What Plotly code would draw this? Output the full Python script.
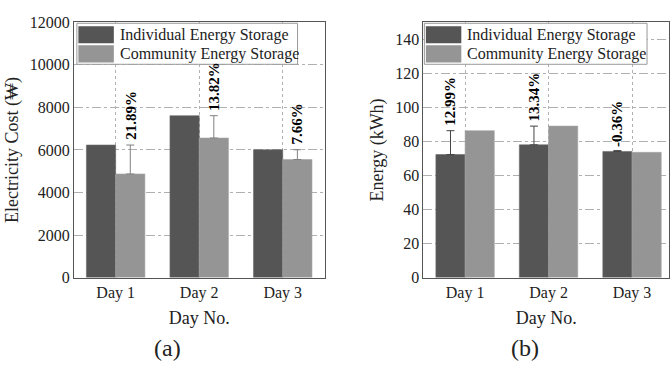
import plotly.graph_objects as go

days = ["Day 1", "Day 2", "Day 3"]
series_names = ["Individual Energy Storage", "Community Energy Storage"]

cost_individual = [6230, 7610, 6010]
cost_community = [4870, 6560, 5550]
cost_labels = ["21.89%", "13.82%", "7.66%"]

energy_individual = [72.3, 78.0, 74.1]
energy_community = [86.3, 89.0, 73.6]
energy_labels = ["12.99%", "13.34%", "-0.36%"]

cost_ticks = [0, 2000, 4000, 6000, 8000, 10000, 12000]
energy_ticks = [0, 20, 40, 60, 80, 100, 120, 140]

DARK = "#555555"
LIGHT = "#959595"
FONT = "Liberation Serif"
W, H = 670, 371

fig = go.Figure()

cost_err = [i - c for i, c in zip(cost_individual, cost_community)]
energy_err = [abs(c - i) for i, c in zip(energy_individual, energy_community)]

fig.add_trace(go.Bar(x=days, y=cost_individual, name=series_names[0], marker=dict(color=DARK, line=dict(width=0.6, color="#6a6a6a")),
                     xaxis="x", yaxis="y", showlegend=False))
fig.add_trace(go.Bar(x=days, y=cost_community, name=series_names[1], marker=dict(color=LIGHT, line=dict(width=0.6, color="#a5a5a5")),
                     error_y=dict(type="data", symmetric=False, array=cost_err, arrayminus=[0, 0, 0],
                                  color="#808080", thickness=1, width=4),
                     xaxis="x", yaxis="y", showlegend=False))
fig.add_trace(go.Bar(x=days, y=energy_individual, name=series_names[0], marker=dict(color=DARK, line=dict(width=0.6, color="#6a6a6a")),
                     error_y=dict(type="data", symmetric=False, array=energy_err, arrayminus=[0, 0, 0],
                                  color="#444444", thickness=1, width=4),
                     xaxis="x2", yaxis="y2", showlegend=False))
fig.add_trace(go.Bar(x=days, y=energy_community, name=series_names[1], marker=dict(color=LIGHT, line=dict(width=0.6, color="#a5a5a5")),
                     xaxis="x2", yaxis="y2", showlegend=False))

ydom = [1 - 282.5 / H, 1 - 15 / H]
common_x = dict(showline=True, linecolor="#555555", linewidth=1, mirror=True,
                showgrid=True, gridcolor="#b0b0b0", griddash="dot", gridwidth=1,
                ticks="", tickfont=dict(family=FONT, size=16, color="#222"),
                title=dict(text="Day No.", font=dict(family=FONT, size=18, color="#222"), standoff=10))
common_y = dict(showline=True, linecolor="#555555", linewidth=1, mirror=True,
                showgrid=True, gridcolor="#b0b0b0", griddash="dashdot", gridwidth=1,
                ticks="", zeroline=False, tickformat="d", tickfont=dict(family=FONT, size=16, color="#222"))

fig.update_layout(
    width=W, height=H, margin=dict(l=0, r=0, t=0, b=0),
    paper_bgcolor="white", plot_bgcolor="white",
    barmode="group", bargap=0.3, bargroupgap=0,
    font=dict(family=FONT, color="#222"),
    xaxis=dict(domain=[74 / W, 325 / W], range=[-0.5, 2.5], anchor="y", **common_x),
    yaxis=dict(domain=ydom, range=[0, 12000], tickvals=cost_ticks, anchor="x",
               title=dict(text="Electricity Cost (₩)", font=dict(family=FONT, size=18, color="#222"), standoff=6),
               **common_y),
    xaxis2=dict(domain=[424 / W, 1.0], range=[-0.5, 2.443], anchor="y2", **common_x),
    yaxis2=dict(domain=ydom, range=[0, 150], tickvals=energy_ticks, anchor="x2",
                title=dict(text="Energy (kWh)", font=dict(family=FONT, size=18, color="#222"), standoff=6),
                **common_y),
)

annotations = []
for i, (v, t) in enumerate(zip(cost_individual, cost_labels)):
    annotations.append(dict(x=i + 0.175, y=v, xref="x", yref="y", text="<b>" + t + "</b>", textangle=-90,
                            showarrow=False, xanchor="center", yanchor="bottom", yshift=3,
                            font=dict(family=FONT, size=15, color="black")))
for i, (a, b, t) in enumerate(zip(energy_individual, energy_community, energy_labels)):
    annotations.append(dict(x=i - 0.175, y=max(a, b), xref="x2", yref="y2", text="<b>" + t + "</b>", textangle=-90,
                            showarrow=False, xanchor="center", yanchor="bottom", yshift=3,
                            font=dict(family=FONT, size=15, color="black")))

# manual legends (large swatches)
shapes = []
def px_x(p):
    return p / W
def px_y(p):
    return 1 - p / H

for x0, x1 in [(77, 298), (425, 648)]:
    shapes.append(dict(type="rect", xref="paper", yref="paper", x0=px_x(x0), x1=px_x(x1), y0=px_y(59), y1=px_y(16),
                       fillcolor="white", line=dict(color="#999999", width=1), layer="above"))
    for row, (col, name) in enumerate(zip([DARK, LIGHT], series_names)):
        top = 19 + row * 20
        shapes.append(dict(type="rect", xref="paper", yref="paper", x0=px_x(x0 + 1.5), x1=px_x(x0 + 37),
                           y0=px_y(top + 18), y1=px_y(top), fillcolor=col, line=dict(width=0), layer="above"))
        annotations.append(dict(x=px_x(x0 + 41), y=px_y(top + 9.5), xref="paper", yref="paper", text=name,
                                showarrow=False, xanchor="left", yanchor="middle",
                                font=dict(family=FONT, size=16, color="#222")))

annotations.append(dict(x=168 / W, y=px_y(356), xref="paper", yref="paper", text="(a)", showarrow=False,
                        xanchor="center", yanchor="middle", font=dict(family=FONT, size=24, color="#222")))
annotations.append(dict(x=526 / W, y=px_y(356), xref="paper", yref="paper", text="(b)", showarrow=False,
                        xanchor="center", yanchor="middle", font=dict(family=FONT, size=24, color="#222")))

fig.update_layout(shapes=shapes, annotations=annotations)
fig.write_html("out.html")
